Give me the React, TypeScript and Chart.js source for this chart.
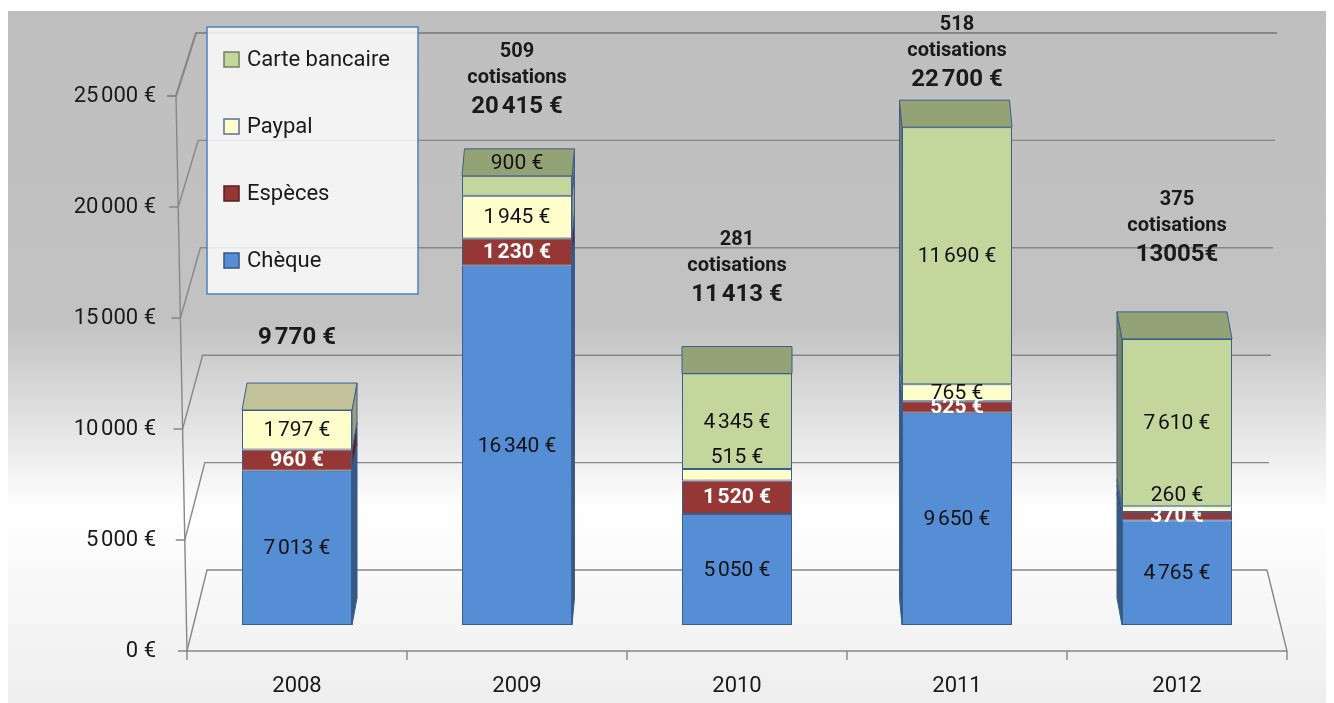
import { useEffect, useRef } from 'react';
import { Chart, registerables } from 'chart.js';

Chart.register(...registerables);

// ---------- data ----------
const categories = ['2008', '2009', '2010', '2011', '2012'];
const chequeValues = [7013, 16340, 5050, 9650, 4765];
const especesValues = [960, 1230, 1520, 525, 370];
const paypalValues = [1797, 1945, 515, 765, 260];
const carteValues = [0, 900, 4345, 11690, 7610];
const cotisationCounts = ['', '509', '281', '518', '375'];
const totalLabels = ['9\u202f770 €', '20\u202f415 €', '11\u202f413 €', '22\u202f700 €', '13005€'];
const yTickValues = [0, 5000, 10000, 15000, 20000, 25000];
const yTickLabels = ['0 €', '5\u202f000 €', '10\u202f000 €', '15\u202f000 €', '20\u202f000 €', '25\u202f000 €'];
const seriesNames = ['Chèque', 'Espèces', 'Paypal', 'Carte bancaire'];

// ---------- style ----------
const FONT = 'Roboto, "Noto Sans", "DejaVu Sans", sans-serif';
const W = 1326;
const H = 695;
const seriesColors = ['#558ed5', '#953735', '#ffffcc', '#c3d69b'];
const labelColors = ['#111111', '#ffffff', '#111111', '#111111'];
const labelWeights = ['normal', 'bold', 'normal', 'normal'];
const OUTLINE = '#3b5e8c';
const WALL = '#878787';
const DEPTH_DY = -27;
const VP_K = 0.0114;
const NOTE_LIFT = [45, 42, 52, 20, 57];

function shade(hex: string, f: number): string {
  const n = parseInt(hex.slice(1), 16);
  const r = Math.round(((n >> 16) & 255) * f);
  const g = Math.round(((n >> 8) & 255) * f);
  const b = Math.round((n & 255) * f);
  return `rgb(${r},${g},${b})`;
}

function fmt(v: number): string {
  const s = String(v);
  return s.length > 3 ? s.slice(0, s.length - 3) + '\u202f' + s.slice(-3) : s;
}

function poly(ctx: CanvasRenderingContext2D, pts: number[][], fill: string, stroke: string) {
  ctx.beginPath();
  ctx.moveTo(pts[0][0], pts[0][1]);
  for (let i = 1; i < pts.length; i++) ctx.lineTo(pts[i][0], pts[i][1]);
  ctx.closePath();
  ctx.fillStyle = fill;
  ctx.fill();
  ctx.lineWidth = 1;
  ctx.strokeStyle = stroke;
  ctx.stroke();
}

const threeD = {
  id: 'threeD',
  beforeDraw(chart: any) {
    const { ctx } = chart;
    ctx.save();
    ctx.fillStyle = '#ffffff';
    ctx.fillRect(0, 0, W, H);
    const g = ctx.createLinearGradient(0, 3, 0, H);
    g.addColorStop(0, '#bfbfbf');
    g.addColorStop(0.45, '#c2c2c2');
    g.addColorStop(0.72, '#ffffff');
    g.addColorStop(1, '#eeeeee');
    ctx.fillStyle = g;
    ctx.fillRect(0, 3, W, H - 3);
    ctx.restore();
  },
  beforeDatasetsDraw(chart: any) {
    const { ctx, chartArea: area } = chart;
    const yt = chart.scales.yt;
    const xs = chart.scales.x;
    const y0 = yt.getPixelForValue(0);
    const yb0 = y0 - 81;
    const backY = (v: number) => yb0 + (yt.getPixelForValue(v) - y0) * 0.9676;
    const frontX = (y: number) => area.left - (y0 - y) * (11 / 555);
    const backLX = (yb: number) => area.left + 20 - (yb0 - yb) * (11 / 537);
    const backRX = (yb: number) => area.right - 20 + (yb0 - yb) * (10 / 537);
    ctx.save();
    ctx.strokeStyle = WALL;
    ctx.lineCap = 'butt';
    const maxV = yTickValues[yTickValues.length - 1];
    for (const v of yTickValues) {
      const yf = yt.getPixelForValue(v);
      const yb = backY(v);
      ctx.lineWidth = v === maxV ? 2.2 : 1.4;
      ctx.beginPath();
      ctx.moveTo(frontX(yf) - 9, yf);
      ctx.lineTo(frontX(yf), yf);
      ctx.lineTo(backLX(yb), yb);
      ctx.lineTo(backRX(yb), yb);
      ctx.stroke();
    }
    ctx.lineWidth = 1.4;
    const yTop = yt.getPixelForValue(maxV);
    ctx.beginPath();
    ctx.moveTo(frontX(y0), y0);
    ctx.lineTo(frontX(yTop), yTop);
    ctx.stroke();
    // floor front edge and right edge
    ctx.beginPath();
    ctx.moveTo(area.left, y0);
    ctx.lineTo(area.right, y0);
    ctx.lineTo(backRX(yb0), yb0);
    ctx.stroke();
    // category tick marks
    const half = (xs.getPixelForValue(1) - xs.getPixelForValue(0)) / 2;
    for (let i = 0; i <= categories.length; i++) {
      const bx = i < categories.length ? xs.getPixelForValue(i) - half : xs.getPixelForValue(i - 1) + half;
      ctx.beginPath();
      ctx.moveTo(bx, y0);
      ctx.lineTo(bx, y0 + 9);
      ctx.stroke();
    }
    ctx.restore();
  },
  afterDatasetsDraw(chart: any) {
    const { ctx, chartArea: area } = chart;
    const vpX = (area.left + area.right) / 2;
    const nSeries = chart.data.datasets.length;
    ctx.save();
    for (let i = 0; i < categories.length; i++) {
      let topIdx = -1;
      for (let d = 0; d < nSeries; d++) {
        if ((chart.data.datasets[d].data[i] as number) > 0) topIdx = d;
      }
      let topY = 0;
      // side faces
      for (let d = 0; d < nSeries; d++) {
        const v = chart.data.datasets[d].data[i] as number;
        if (!(v > 0)) continue;
        const el = chart.getDatasetMeta(d).data[i];
        const { x, y, base, width } = el.getProps(['x', 'y', 'base', 'width'], true);
        const dx = (vpX - x) * VP_K;
        const xl = x - width / 2;
        const xr = x + width / 2;
        const col = seriesColors[d];
        if (Math.abs(dx) > 0.6) {
          const sx = dx > 0 ? xr : xl;
          poly(ctx, [[sx, y], [sx + dx, y + DEPTH_DY], [sx + dx, base + DEPTH_DY], [sx, base]], shade(col, 0.62), OUTLINE);
        }
        if (d === topIdx) {
          topY = y + DEPTH_DY;
          poly(ctx, [[xl, y], [xr, y], [xr + dx, y + DEPTH_DY], [xl + dx, y + DEPTH_DY]], shade(col, 0.76), OUTLINE);
        }
      }
      // data labels
      for (let d = 0; d < nSeries; d++) {
        const v = chart.data.datasets[d].data[i] as number;
        if (!(v > 0)) continue;
        const el = chart.getDatasetMeta(d).data[i];
        const { x, y, base } = el.getProps(['x', 'y', 'base'], true);
        const h = base - y;
        let ly = (y + base) / 2;
        if (d === topIdx && h < 25) ly = y + DEPTH_DY / 2;
        else if (d === 2 && h < 14) ly = y - 12;
        ctx.font = `${labelWeights[d]} 21px ${FONT}`;
        ctx.fillStyle = labelColors[d];
        ctx.textAlign = 'center';
        ctx.textBaseline = 'middle';
        ctx.fillText(`${fmt(v)} €`, x, ly + 1);
      }
      // total annotations
      const bx = chart.getDatasetMeta(0).data[i].x;
      const anchor = topY - NOTE_LIFT[i];
      ctx.fillStyle = '#1a1a1a';
      ctx.textAlign = 'center';
      ctx.textBaseline = 'middle';
      ctx.font = `bold 24px ${FONT}`;
      ctx.fillText(totalLabels[i], bx, anchor);
      if (cotisationCounts[i]) {
        ctx.font = `bold 20px ${FONT}`;
        ctx.fillText('cotisations', bx, anchor - 29);
        ctx.fillText(cotisationCounts[i], bx, anchor - 55);
      }
    }
    // legend
    const lx = area.left + 20;
    const ly = 19;
    ctx.fillStyle = 'rgba(255,255,255,0.8)';
    ctx.fillRect(lx, ly, 211, 267);
    ctx.strokeStyle = '#4f81bd';
    ctx.lineWidth = 1.5;
    ctx.strokeRect(lx, ly, 211, 267);
    ctx.font = `normal 22px ${FONT}`;
    ctx.textAlign = 'left';
    ctx.textBaseline = 'middle';
    for (let k = 0; k < nSeries; k++) {
      const d = nSeries - 1 - k;
      const cy = ly + 33 + k * 67;
      ctx.fillStyle = seriesColors[d];
      ctx.fillRect(lx + 17, cy - 8, 15, 15);
      ctx.strokeStyle = d === 2 ? '#5a6f8f' : shade(seriesColors[d], 0.6);
      ctx.lineWidth = 1.5;
      ctx.strokeRect(lx + 17, cy - 8, 15, 15);
      ctx.fillStyle = '#1a1a1a';
      ctx.fillText(seriesNames[d], lx + 40, cy);
    }
    ctx.restore();
  },
};

export default function App() {
  const ref = useRef<HTMLCanvasElement>(null);
  useEffect(() => {
    const series = [chequeValues, especesValues, paypalValues, carteValues];
    const chart = new Chart(ref.current as HTMLCanvasElement, {
      type: 'bar',
      data: {
        labels: categories,
        datasets: series.map((vals, d) => ({
          label: seriesNames[d],
          data: vals,
          backgroundColor: seriesColors[d],
          borderColor: OUTLINE,
          borderWidth: 1,
          borderSkipped: false,
          barPercentage: 0.5,
          categoryPercentage: 1,
          yAxisID: 'y',
        })),
      },
      options: {
        responsive: false,
        animation: false,
        devicePixelRatio: 1,
        events: [],
        layout: { padding: { top: 88, right: 47, left: 0, bottom: 0 } },
        plugins: { legend: { display: false }, tooltip: { enabled: false } },
        scales: {
          x: {
            stacked: true,
            grid: { display: false, drawTicks: false },
            border: { display: false },
            ticks: { font: { family: FONT, size: 22 }, color: '#1a1a1a', padding: 22 },
            afterFit: (s: any) => { s.height = 52; },
          },
          y: {
            stacked: true,
            display: false,
            min: -1182,
            max: 24045,
          },
          yt: {
            position: 'left',
            min: 0,
            max: 25000,
            grid: { display: false, drawTicks: false },
            border: { display: false },
            ticks: {
              stepSize: 5000,
              padding: 31,
              font: { family: FONT, size: 22 },
              color: '#1a1a1a',
              callback: (v: any) => yTickLabels[yTickValues.indexOf(Number(v))] ?? '',
            },
            afterFit: (s: any) => { s.width = 179; },
          },
        },
      } as any,
      plugins: [threeD],
    });
    return () => chart.destroy();
  }, []);
  return <canvas ref={ref} width={W} height={H} style={{ display: 'block', width: W, height: H }} />;
}
